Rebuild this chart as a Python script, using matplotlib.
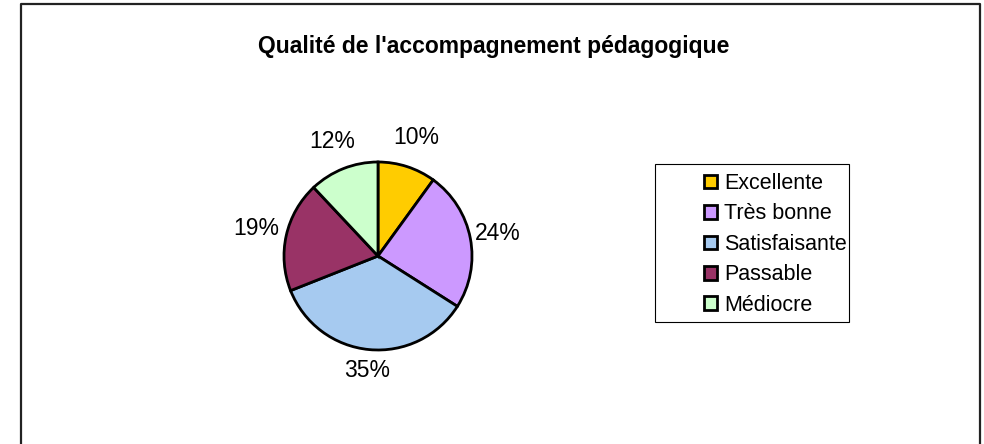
import numpy as np
import matplotlib
matplotlib.use("Agg")
import matplotlib.pyplot as plt
from matplotlib.patches import Rectangle
from matplotlib.lines import Line2D

categories = ["Excellente", "Très bonne", "Satisfaisante", "Passable", "Médiocre"]
values = [10, 24, 35, 19, 12]
colors = ["#FFCC00", "#CC99FF", "#A6CAF0", "#993366", "#CCFFCC"]
title = "Qualité de l'accompagnement pédagogique"

W, H = 984, 444
plt.rcParams['font.family'] = ['Liberation Sans', 'DejaVu Sans']
fig = plt.figure(figsize=(W / 100, H / 100), dpi=100)
fig.patch.set_facecolor("white")

# outer frame (left, top, right)
fx0, fx1, fy = 21 / W, 980 / W, 1 - 4 / H
fig.add_artist(Line2D([fx0, fx0, fx1, fx1], [-0.05, fy, fy, -0.05],
                      transform=fig.transFigure, color="#222222", lw=1.6))

# pie axes
cx, cy, r = 378, 256, 94
lim = 1.25
half = r * lim
ax = fig.add_axes([(cx - half) / W, (H - cy - half) / H, 2 * half / W, 2 * half / H])
wedges, _ = ax.pie(values, colors=colors, startangle=90, counterclock=False,
                   wedgeprops=dict(edgecolor="black", linewidth=2.0))
ax.set_xlim(-lim, lim)
ax.set_ylim(-lim, lim)
ax.set_aspect("equal")
ax.axis("off")

fs_lab = 16.5
dists = [1.33, 1.30, 1.22, 1.33, 1.31]
total = sum(values)
for w, v, d in zip(wedges, values, dists):
    th = np.deg2rad((w.theta1 + w.theta2) / 2)
    ax.text(d * np.cos(th), d * np.sin(th), f"{round(100 * v / total)}%",
            ha="center", va="center", fontsize=fs_lab, clip_on=False)

fig.text(494 / W, 1 - 46 / H, title, ha="center", va="center",
         fontsize=16.5, fontweight="bold")

# legend box
lx0, lx1, ly0, ly1 = 655, 849, 164, 322
fig.add_artist(Rectangle((lx0 / W, 1 - ly1 / H), (lx1 - lx0) / W, (ly1 - ly0) / H,
                         transform=fig.transFigure, facecolor="white",
                         edgecolor="black", lw=0.8))
leg = fig.legend(wedges, categories, loc="upper left",
                 bbox_to_anchor=(704 / W, 1 - 173 / H), frameon=False,
                 fontsize=15.5, handlelength=0.6, handleheight=0.6,
                 handletextpad=0.33, labelspacing=0.44, borderpad=0,
                 borderaxespad=0)
for h in leg.legend_handles:
    h.set_linewidth(2.0)

fig.savefig("out.png", dpi=100)
